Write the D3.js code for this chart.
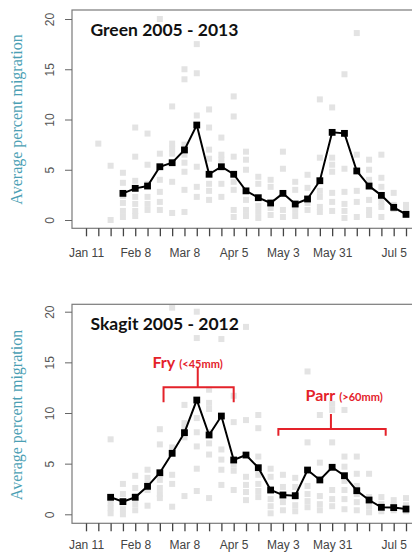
<!DOCTYPE html>
<html><head><meta charset="utf-8">
<script src="https://cdn.jsdelivr.net/npm/d3@7"></script>
<style>html,body{margin:0;padding:0;background:#fff;} svg{display:block;}</style>
</head><body><svg id="c" width="412" height="552"></svg>
<script>
// ---- data ----
const weekCount = 27;                        // weekly ticks Jan 11 .. Jul 12
const xTickWeeks = [0, 4, 8, 12, 16, 20, 25];
const xTickLabels = ["Jan 11", "Feb 8", "Mar 8", "Apr 5", "May 3", "May 31", "Jul 5"];
const yTicks = [0, 5, 10, 15, 20];

const greenTitle = "Green 2005 - 2013";
const greenFirstWeek = 3;
const greenMean = [2.65, 3.15, 3.38, 5.3, 5.7, 6.97, 9.45, 4.55, 5.3, 4.55, 2.9, 2.22,
  1.69, 2.65, 1.59, 2.09, 3.91, 8.72, 8.62, 4.88, 3.38, 2.45, 1.26, 0.56];
const greenYears = [
  [], [7.6], [5.4, 0.0], [4.7, 3.7, 2.4, 1.7, 0.9, 0.3],
  [9.2, 6.3, 3.9, 2.3, 1.6, 0.9, 0.4], [8.6, 5.5, 3.6, 2.3, 1.6, 1.0],
  [20.0, 6.6, 5.3, 4.0, 2.8, 1.8, 1.0], [11.3, 7.6, 7.1, 6.6, 3.8, 0.7],
  [15.0, 14.0, 7.5, 6.5, 5.7, 4.8, 3.0, 0.8], [17.5, 14.6, 10.4, 5.3, 3.3, 2.3],
  [11.0, 9.2, 7.0, 6.1, 3.6, 2.9, 2.0], [8.2, 6.5, 6.0, 3.6, 2.3],
  [12.3, 10.3, 6.3, 3.8, 3.0, 1.0, 0.3], [6.8, 6.0, 5.0, 2.0, 1.0, 0.4],
  [4.3, 3.6, 1.4, 0.8, 0.2], [4.0, 3.3, 1.2, 0.5], [6.8, 5.1, 1.0, 0.3],
  [3.8, 3.0, 1.0, 0.4], [4.5, 3.2, 1.7, 1.0], [12.0, 6.2, 2.9, 2.3, 1.3, 0.8],
  [11.2, 6.2, 5.5, 4.8, 2.7, 1.8, 0.9], [14.5, 5.1, 2.8, 1.6, 0.9, 0.2],
  [18.6, 6.5, 2.9, 1.8, 0.3], [6.0, 5.0, 4.0, 3.3, 2.0, 1.0, 0.5],
  [6.5, 4.2, 3.3, 1.8, 1.3, 0.3], [2.7, 1.5, 1.1], [1.5, 1.0, 0.5]
];

const skagitTitle = "Skagit 2005 - 2012";
const skagitFirstWeek = 2;
const skagitMean = [1.68, 1.25, 1.68, 2.76, 4.1, 6.02, 8.06, 11.28, 7.83, 9.7, 5.36, 5.85,
  4.6, 2.4, 1.9, 1.84, 4.37, 3.39, 4.64, 3.81, 2.33, 1.41, 0.69, 0.66, 0.52];
const skagitYears = [
  [], [], [7.4, 1.1, 0.6, 0.1], [3.0, 2.0, 1.2, 0.5, 0.0], [3.8, 2.6, 1.8, 1.0, 0.4],
  [4.4, 3.6, 3.0, 2.4, 0.85], [8.4, 6.9, 3.4, 2.6, 2.0, 1.6], [20.4, 6.6, 3.9, 3.0, 0.75],
  [10.8, 9.0, 8.5, 7.6, 1.8], [20.0, 17.4, 9.5, 8.1, 6.7, 4.5, 2.3],
  [12.3, 11.0, 10.4, 8.1, 7.0, 5.9, 1.6], [17.3, 6.4, 5.4, 4.4, 2.9],
  [11.7, 9.1, 4.9, 4.3, 2.4], [18.5, 9.3, 3.7, 2.9, 2.2, 1.4],
  [9.8, 8.5, 5.7, 3.9, 3.0, 2.3, 1.7], [4.5, 3.7, 2.3, 1.5, 0.8, 0.1],
  [3.9, 2.7, 2.0, 1.2, 0.4], [3.6, 2.7, 1.7, 0.9, 0.3], [14.1, 7.1, 2.8, 2.0, 1.3, 0.7],
  [9.8, 5.1, 1.8, 1.0, 0.4], [10.9, 10.3, 7.1, 2.4, 1.5, 0.8],
  [10.3, 5.7, 4.7, 3.3, 2.4, 1.5, 0.5], [5.7, 4.0, 2.8, 2.0, 1.2, 0.4],
  [4.0, 1.7, 0.8, 0.2], [1.7, 1.0, 0.3], [1.4, 0.9, 0.4], [1.6, 0.9, 0.3]
];

// annotation braces for Skagit, in data units (week, percent)
const braceLabels = ["Fry", "Parr"];
const braceSubLabels = ["(<45mm)", "(>60mm)"];
const braceFrom = [6.3, 15.63];
const braceTo = [12.0, 24.35];
const braceMid = [9.08, 19.9];
const braceBar = [12.54, 8.42];
const braceEnd = [11.06, 7.76];
const braceTip = [14.5, 9.9];
const braceTextWeek = [5.4, 17.84];
const braceTextVal = [14.44, 11.2];

// ---- drawing ----
const svg = d3.select("#c");
const x = d3.scaleLinear().domain([0, 26]).range([86, 406]);
const red = "#e4222a";

function panel(id, frame, title, firstWeek, mean, years) {
  const y = d3.scaleLinear().domain([0, 20]).range([frame.y0, frame.y20]);
  const g = svg.append("g");
  g.append("clipPath").attr("id", id).append("rect")
    .attr("x", 72).attr("y", frame.top).attr("width", 360).attr("height", frame.bottom - frame.top);

  const pts = [];
  years.forEach((vals, w) => vals.forEach(v => pts.push([w, v])));
  const plot = g.append("g").attr("clip-path", `url(#${id})`);
  plot.selectAll("rect.gray").data(pts).join("rect").attr("class", "gray")
    .attr("x", d => x(d[0]) - 3).attr("y", d => y(d[1]) - 3)
    .attr("width", 6).attr("height", 6).attr("fill", "#e3e3e3");

  const m = mean.map((v, i) => [firstWeek + i, v]);
  plot.append("path").datum(m)
    .attr("d", d3.line().x(d => x(d[0])).y(d => y(d[1])))
    .attr("fill", "none").attr("stroke", "#000").attr("stroke-width", 2);
  plot.selectAll("rect.mean").data(m).join("rect").attr("class", "mean")
    .attr("x", d => x(d[0]) - 3.4).attr("y", d => y(d[1]) - 3.4)
    .attr("width", 6.8).attr("height", 6.8).attr("fill", "#000");

  // frame
  g.append("rect").attr("x", 72).attr("y", frame.top).attr("width", 360)
    .attr("height", frame.bottom - frame.top).attr("fill", "none")
    .attr("stroke", "#7a7a7a").attr("stroke-width", 1.2);

  // y axis
  const ya = g.append("g").attr("transform", "translate(72,0)")
    .call(d3.axisLeft(y).tickValues(yTicks).tickSize(7).tickSizeOuter(0).tickFormat(d3.format("d")));
  ya.select(".domain").remove();
  ya.selectAll("line").attr("stroke", "#666");
  ya.selectAll("text").attr("x", null).attr("dy", null)
    .attr("transform", "translate(-18,0) rotate(-90)").attr("text-anchor", "middle")
    .attr("font-family", "Liberation Sans, Arial, sans-serif").attr("font-size", 12).attr("fill", "#555");

  // x axis
  const xa = g.append("g").attr("transform", `translate(0,${frame.bottom})`)
    .call(d3.axisBottom(x).tickValues(d3.range(weekCount)).tickSize(8).tickSizeOuter(0)
      .tickFormat(d => { const k = xTickWeeks.indexOf(d); return k >= 0 ? xTickLabels[k] : ""; }));
  xa.select(".domain").remove();
  xa.selectAll("line").attr("stroke", "#444").attr("stroke-width", 1.3);
  xa.selectAll("text").attr("y", frame.labelOff).attr("dy", "0.71em")
    .attr("font-family", "Liberation Sans, Arial, sans-serif").attr("font-size", 12).attr("fill", "#444");

  // title
  g.append("text").attr("x", 90.5).attr("y", frame.top + 26).text(title)
    .attr("font-family", "Lato, sans-serif").attr("font-weight", 700).attr("font-size", 17.5).attr("fill", "#111");

  // y label
  g.append("text").attr("transform", `translate(21.5,${frame.labelY}) rotate(-90)`)
    .attr("text-anchor", "middle").text("Average percent migration")
    .attr("font-family", "Liberation Serif, serif").attr("font-size", 16).attr("fill", "#4b9fb4");
  return y;
}

panel("clipA", {top: 10, bottom: 228.3, y0: 220, y20: 19, labelY: 119.5, labelOff: 20.5},
  greenTitle, greenFirstWeek, greenMean, greenYears);
const yB = panel("clipB", {top: 304.3, bottom: 523.3, y0: 514.3, y20: 311.7, labelY: 415, labelOff: 17.5},
  skagitTitle, skagitFirstWeek, skagitMean, skagitYears);

braceLabels.forEach((lab, i) => {
  const a = svg.append("g");
  const x0 = x(braceFrom[i]), x1 = x(braceTo[i]), xm = x(braceMid[i]);
  const yb = yB(braceBar[i]), ye = yB(braceEnd[i]), yt = yB(braceTip[i]);
  a.append("path").attr("d", `M${x0},${ye}V${yb}H${x1}V${ye}M${xm},${yb}V${yt}`)
    .attr("fill", "none").attr("stroke", red).attr("stroke-width", 2);
  const t = a.append("text").attr("x", x(braceTextWeek[i])).attr("y", yB(braceTextVal[i]))
    .attr("font-family", "Lato, sans-serif").attr("font-weight", 700).attr("fill", red);
  t.append("tspan").attr("font-size", 16).text(lab);
  t.append("tspan").attr("font-size", 11).attr("dx", 4).text(braceSubLabels[i]);
});
</script></body></html>
